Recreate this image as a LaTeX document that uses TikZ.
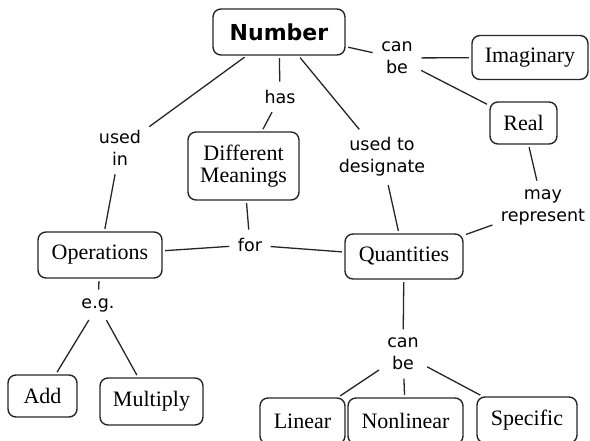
\documentclass[tikz,border=0pt]{standalone}
\usepackage{fontspec}
\setmainfont{Liberation Serif}
\newfontfamily\linkfont{DejaVu Sans}
\begin{document}
\begin{tikzpicture}[x=1pt,y=-1pt,
  concept/.style={draw=black!85, line width=1.4pt, rounded corners=8pt,
    inner sep=0pt, align=center, font=\fontsize{22}{22}\selectfont},
  linkword/.style={inner sep=6pt, align=center,
    font=\linkfont\fontsize{17.5}{22}\selectfont},
  link/.style={draw=black!85, line width=1.3pt, shorten <=2.5pt, shorten >=2.5pt}]
\useasboundingbox (0,0) rectangle (590,441);
\clip (0,0) rectangle (590,441);

% concepts
\node[concept, minimum width=132pt, minimum height=46pt,
  font=\linkfont\bfseries\fontsize{22}{22}\selectfont] (number) at (279,32) {Number};
\node[concept, minimum width=116pt, minimum height=44pt] (imag) at (530,57.5) {Imaginary};
\node[concept, minimum width=67pt, minimum height=42pt] (real) at (523.5,123) {Real};
\node[concept, minimum width=111pt, minimum height=68pt] (mean) at (243.5,166) {Different\\Meanings};
\node[concept, minimum width=124pt, minimum height=46pt] (oper) at (100,255) {Operations};
\node[concept, minimum width=118pt, minimum height=45pt] (quant) at (404,256.5) {Quantities};
\node[concept, minimum width=69pt, minimum height=42pt] (add) at (42.5,396) {Add};
\node[concept, minimum width=103pt, minimum height=47pt] (mult) at (151.5,401.5) {Multiply};
\node[concept, minimum width=85pt, minimum height=46pt] (lin) at (302.5,421) {Linear};
\node[concept, minimum width=115pt, minimum height=46pt] (nonlin) at (405.5,421) {Nonlinear};
\node[concept, minimum width=100pt, minimum height=46pt] (spec) at (527,420) {Specific};

% linking words
\node[linkword] (canbeA) at (397,58) {can\\be};
\node[linkword] (has) at (280,97) {has};
\node[linkword] (usedin) at (120,148) {used\\in};
\node[linkword] (design) at (382,157) {used to\\designate};
\node[linkword] (mayrep) at (543,207) {may\\represent};
\node[linkword] (for) at (250,245) {for};
\node[linkword] (eg) at (98,305) {e.g.};
\node[linkword] (canbeB) at (403,354) {can\\be};

% connectors
\draw[link] (number) -- (canbeA);
\draw[link] (canbeA) -- (imag);
\draw[link] (canbeA) -- (real);
\draw[link] (number) -- (has);
\draw[link] (has) -- (mean);
\draw[link] (number) -- (usedin);
\draw[link] (usedin) -- (oper);
\draw[link] (number) -- (design);
\draw[link] (design) -- (quant);
\draw[link] (real) -- (mayrep);
\draw[link] (mayrep) -- (quant);
\draw[link] (mean) -- (for);
\draw[link] (oper) -- (for);
\draw[link] (for) -- (quant);
\draw[link] (oper) -- (eg);
\draw[link] (eg) -- (add);
\draw[link] (eg) -- (mult);
\draw[link] (quant) -- (canbeB);
\draw[link] (canbeB) -- (lin);
\draw[link] (canbeB) -- (nonlin);
\draw[link] (canbeB) -- (spec);
\end{tikzpicture}
\end{document}
